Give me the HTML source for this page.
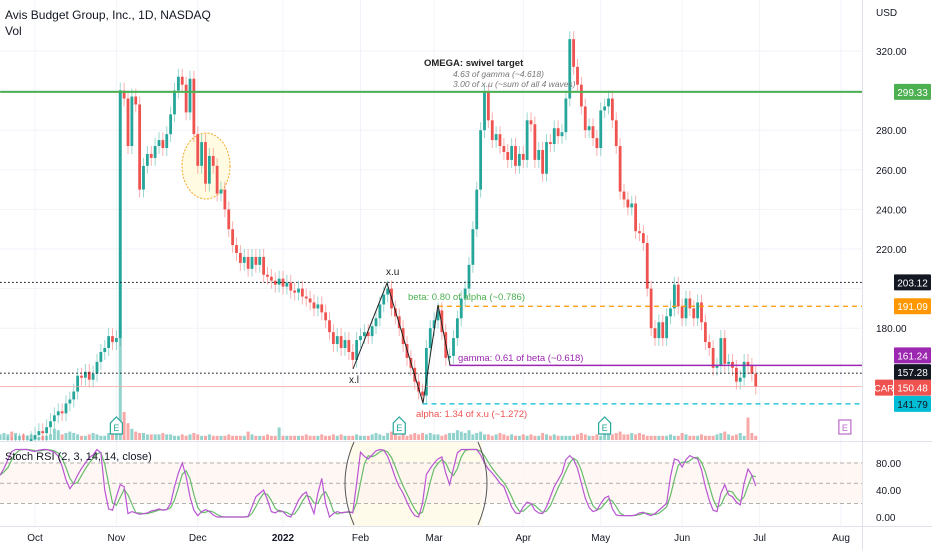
<!DOCTYPE html>
<html><head><meta charset="utf-8"><style>
html,body{margin:0;padding:0;background:#fff;}
svg{display:block;font-family:"Liberation Sans",sans-serif;}
</style></head><body>
<svg id="chart" width="932" height="550" viewBox="0 0 932 550">
<defs><clipPath id="mainClip"><rect x="0" y="0" width="862" height="441"/></clipPath>
<clipPath id="stochClip"><rect x="0" y="442" width="862" height="84"/></clipPath></defs>
<g id="grid"></g>
<rect x="350" y="442" width="132" height="84" fill="#fffbea"/>
<rect x="0" y="462" width="862" height="41" fill="#fdf3ef" opacity="0.7"/>
<ellipse cx="206" cy="166" rx="24" ry="33" fill="#fffbe3" stroke="#f5a623" stroke-dasharray="2,1.5" stroke-width="1"/>
<g id="vol" clip-path="url(#mainClip)"></g>
<g id="candles" clip-path="url(#mainClip)"></g>
<g id="levels"></g>
<g id="stoch" clip-path="url(#stochClip)"></g>
<g id="axes"></g>
<g id="annot">
<polyline points="353,369 387,283 423,403 438,305 450,365" fill="none" stroke="#222" stroke-width="1"/>
<text x="386" y="275" font-size="10" fill="#222">x.u</text>
<text x="349" y="383" font-size="10" fill="#222">x.l</text>
<text x="408" y="300" font-size="9.5" fill="#4caf50">beta: 0.80 of alpha (~0.786)</text>
<text x="458" y="361" font-size="9.5" fill="#9c27b0">gamma: 0.61 of beta (~0.618)</text>
<text x="416" y="417" font-size="9.5" fill="#ef5350">alpha: 1.34 of x.u (~1.272)</text>
<text x="424" y="66" font-size="9.5" font-weight="bold" fill="#222">OMEGA: swivel target</text>
<text x="453" y="77" font-size="8.5" font-style="italic" fill="#777">4.63 of gamma (~4.618)</text>
<text x="453" y="87" font-size="8.5" font-style="italic" fill="#777">3.00 of x.u (~sum of all 4 waves)</text>
<path d="M354,525 Q336,483 354,442" fill="none" stroke="#555" stroke-width="1"/>
<path d="M478,442 Q496,483 478,525" fill="none" stroke="#555" stroke-width="1"/>
<text x="5" y="19" font-size="12" fill="#131722">Avis Budget Group, Inc., 1D, NASDAQ</text>
<text x="5" y="35" font-size="12" fill="#131722">Vol</text>
<text x="5" y="460" font-size="11" fill="#131722">Stoch RSI (2, 3, 14, 14, close)</text>
</g>
</svg>
<script>
// ---- data (index -9 = first bar at left edge; index 0 = Oct 1 2021) ----
const startIndex = -9;
const closes = [118,119,121,120,122,123,121,122,124,
126,128,127,130,133,136,138,137,142,144,148,156,155,158,154,157,163,168,170,176,173,
175,300,296,272,297,293,250,262,268,266,272,275,271,278,288,300,307,303,289,306,278,
262,274,253,267,262,248,250,240,230,222,218,213,216,210,216,212,216,207,206,204,202,205,
201,203,199,198,200,196,195,193,190,192,188,184,178,172,176,170,174,168,164,174,
176,178,176,181,185,192,197,200,190,186,180,172,165,160,153,148,146,170,180,
184,189,178,165,166,175,185,195,200,212,230,250,280,299,285,275,278,272,269,265,272,262,268,
265,285,283,265,270,258,274,273,281,277,279,296,326,312,303,292,280,282,276,271,
290,292,296,285,272,249,245,241,243,229,228,223,200,180,175,183,175,186,190,202,191,
185,195,190,185,193,183,173,170,160,161,175,162,163,160,153,155,163,161,157,150.48];
const volumes = [4,5,4,6,5,3,4,3,4,
3,2,3,3,4,8,7,4,5,6,5,4,3,3,4,5,4,3,3,5,6,
10,250,20,12,8,6,5,5,4,4,4,4,5,4,4,3,3,4,3,4,5,
4,3,3,4,3,3,3,3,4,3,3,3,3,6,4,3,3,3,4,3,3,9,
3,3,3,3,3,3,4,3,3,3,4,3,3,4,3,4,3,3,3,4,
3,3,3,4,5,4,3,5,6,4,3,4,3,4,5,4,5,4,5,
4,4,3,4,5,5,7,6,5,7,4,5,6,4,4,3,4,5,4,3,4,3,3,
4,3,4,3,3,5,4,3,4,3,3,3,3,3,4,5,4,3,3,4,
3,4,5,4,5,6,4,4,5,4,5,4,3,3,3,3,3,3,4,3,3,
5,4,3,3,3,4,3,3,3,4,5,6,4,3,4,5,3,16,5,3];
const stochK = [62,72,85,97,100,100,100,100,98,
97,99,100,100,98,96,90,75,55,42,50,62,72,80,88,92,100,95,40,12,10,
30,48,45,5,8,6,4,5,6,9,10,12,10,11,20,45,65,80,60,30,10,
2,8,11,8,3,0,0,0,0,0,0,0,0,1,15,30,35,40,25,8,6,10,
8,2,0,12,25,33,37,20,5,35,57,20,0,5,8,6,7,8,6,50,
96,90,86,92,98,100,99,90,75,58,45,35,22,10,2,0,20,63,72,
80,86,89,65,48,72,95,100,100,100,100,100,92,80,71,65,58,50,45,30,15,6,5,
15,22,20,10,6,5,15,30,45,55,65,85,91,85,72,50,28,14,8,10,
20,28,31,12,3,2,2,2,2,3,6,7,4,2,5,10,15,20,60,86,84,
74,85,91,88,86,70,45,25,10,8,35,48,33,30,22,18,50,71,62,46];
const priceTicks = [180,200,220,240,260,280,300,320];
const monthLabels = ["Oct","Nov","Dec","2022","Feb","Mar","Apr","May","Jun","Jul","Aug"];
const monthIndex = [0,21,42,64,84,103,126,146,167,187,208];
const stochTicks = [0,40,80];
const stochLevels = [20,50,80];
const hLines = [
 {name:"target-299-line",price:299.33,from:-9,color:"#4caf50",w:2,dash:"",label:"299.33",bg:"#4caf50",fg:"#fff",shift:0},
 {name:"level-203-line",price:203.12,from:-9,color:"#131722",w:1.2,dash:"1.5,2.5",label:"203.12",bg:"#131722",fg:"#fff",shift:0},
 {name:"beta-191-line",price:191.09,from:104,color:"#ff9800",w:1.2,dash:"5,4",label:"191.09",bg:"#ff9800",fg:"#fff",shift:0},
 {name:"gamma-161-line",price:161.24,from:107,color:"#9c27b0",w:1.5,dash:"",label:"161.24",bg:"#9c27b0",fg:"#fff",shift:-10},
 {name:"level-157-line",price:157.28,from:-9,color:"#131722",w:1.2,dash:"1.5,2.5",label:"157.28",bg:"#131722",fg:"#fff",shift:-1},
 {name:"last-price-line",price:150.48,from:-9,color:"#f4a6a4",w:0.8,dash:"",label:"150.48",bg:"#ef5350",fg:"#fff",shift:1},
 {name:"alpha-141-line",price:141.79,from:100,color:"#00bcd4",w:1.2,dash:"5,4",label:"141.79",bg:"#00bcd4",fg:"#131722",shift:0}
];
const earnings = [{i:21,c:"#26a69a"},{i:94,c:"#26a69a"},{i:147,c:"#26a69a"},{i:209,c:"#ba68c8"}];

// ---- axis functions ----
const NS="http://www.w3.org/2000/svg";
const xOf = i => 35 + 3.875*i;
const yOf = p => 51 + (320-p)*1.98;
const yS = v => 517 - 0.675*v;
const yV = v => 440 - 1.4*v;
function mk(tag, parent, attrs){const e=document.createElementNS(NS,tag);for(const k in attrs)e.setAttribute(k,attrs[k]);parent.appendChild(e);return e;}
const grid=document.getElementById('grid'), vol=document.getElementById('vol'), cg=document.getElementById('candles'),
 lv=document.getElementById('levels'), st=document.getElementById('stoch'), ax=document.getElementById('axes');

// grid
priceTicks.forEach(p=>{const l=mk('line',grid,{x1:0,x2:862,y1:yOf(p),y2:yOf(p),stroke:'#f0f3fa'});

});
monthIndex.forEach(i=>{const l=mk('line',grid,{x1:xOf(i),x2:xOf(i),y1:0,y2:526,stroke:'#f0f3fa'});

});

// volume & candles
for(let k=0;k<closes.length;k++){
 const i=startIndex+k, c=closes[k], o=k>0?closes[k-1]:c, up=c>=o;
 const x=xOf(i);
 const vb=mk('rect',vol,{x:x-1.5,width:3,y:yV(volumes[k]),height:440-yV(volumes[k]),fill:up?'rgba(38,166,154,0.5)':'rgba(239,83,80,0.5)'});
 
 
 const col=up?'#26a69a':'#ef5350';
 const hi=Math.max(o,c)+4, lo=Math.min(o,c)-4;
 const wk=mk('line',cg,{x1:x,x2:x,y1:yOf(hi),y2:yOf(lo),stroke:col,'stroke-opacity':0.45,'stroke-width':1});
 
 
 const yt=yOf(Math.max(o,c)), yb=yOf(Math.min(o,c));
 const bd=mk('rect',cg,{x:x-1.4,width:2.8,y:yt,height:Math.max(1,yb-yt),fill:col});
 
 
}

// horizontal levels
hLines.forEach(h=>{
 const y=yOf(h.price);
 const l=mk('line',lv,{x1:Math.max(0,xOf(h.from)),x2:862,y1:y,y2:y,stroke:h.color,'stroke-width':h.w});
 if(h.dash)l.setAttribute('stroke-dasharray',h.dash);
 
 
});

// stoch
stochLevels.forEach(v=>{const l=mk('line',st,{x1:0,x2:862,y1:yS(v),y2:yS(v),stroke:'#999','stroke-dasharray':'4,3','stroke-width':0.8});

});
const stochD = stochK.map((v,k)=>{const a=stochK.slice(Math.max(0,k-2),k+1);return a.reduce((s,x)=>s+x,0)/a.length;});
const kPts=stochK.map((v,k)=>xOf(startIndex+k)+','+yS(v)).join(' ');
const dPts=stochD.map((v,k)=>xOf(startIndex+k)+','+yS(v)).join(' ');
const dl=mk('polyline',st,{points:dPts,fill:'none',stroke:'#66bb6a','stroke-width':1.2});


const kl=mk('polyline',st,{points:kPts,fill:'none',stroke:'#ba55d3','stroke-width':1.2});



// earnings markers
earnings.forEach(e=>{
 const x=xOf(e.i), g=mk('g',cg.parentNode,{});
 
 
 if(e.c==='#26a69a') mk('path',g,{d:`M${x-6},${423} L${x},${417} L${x+6},${423} L${x+6},${434} L${x-6},${434} Z`,fill:'#fff',stroke:e.c,'stroke-width':1.2});
 else mk('rect',g,{x:x-6,y:420,width:12,height:14,fill:'#fff',stroke:e.c,'stroke-width':1.2});
 const t=mk('text',g,{x:x,y:431,'font-size':9,'text-anchor':'middle',fill:e.c});t.textContent='E';
});

// axes
mk('line',ax,{x1:862.5,x2:862.5,y1:0,y2:550,stroke:'#e0e3eb'});
mk('line',ax,{x1:0,x2:932,y1:441.5,y2:441.5,stroke:'#e0e3eb'});
mk('line',ax,{x1:0,x2:932,y1:526.5,y2:526.5,stroke:'#e0e3eb'});
const usd=mk('text',ax,{x:876,y:16,'font-size':10,fill:'#131722'});usd.textContent='USD';


priceTicks.forEach(p=>{
 const near=hLines.some(h=>Math.abs(yOf(h.price)+h.shift-yOf(p))<10);
 if(near) return;
 const t=mk('text',ax,{x:876,y:yOf(p)+4,'font-size':10,fill:'#131722'});t.textContent=p.toFixed(2);
 
 });
stochTicks.forEach(v=>{const t=mk('text',ax,{x:876,y:yS(v)+4,'font-size':10,fill:'#131722'});t.textContent=v.toFixed(2);

});
monthLabels.forEach((m,j)=>{const t=mk('text',ax,{x:xOf(monthIndex[j]),y:541,'font-size':10,'text-anchor':'middle',fill:'#131722','font-weight':m==='2022'?'bold':'normal'});t.textContent=m;

});
hLines.forEach(h=>{
 const y=yOf(h.price)+h.shift;
 const g=mk('g',ax,{});
 
 
 mk('rect',g,{x:894,y:y-8,width:37,height:16,fill:h.bg,rx:1});
 const t=mk('text',g,{x:912.5,y:y+4,'font-size':10,'text-anchor':'middle',fill:h.fg});t.textContent=h.label;
});
const car=mk('g',ax,{});


mk('rect',car,{x:875,y:yOf(150.48)+1-8,width:18,height:16,fill:'#ef5350',rx:1});
const ct=mk('text',car,{x:884,y:yOf(150.48)+1+4,'font-size':9.5,'text-anchor':'middle',fill:'#fff'});ct.textContent='CAR';
</script>
</body></html>
